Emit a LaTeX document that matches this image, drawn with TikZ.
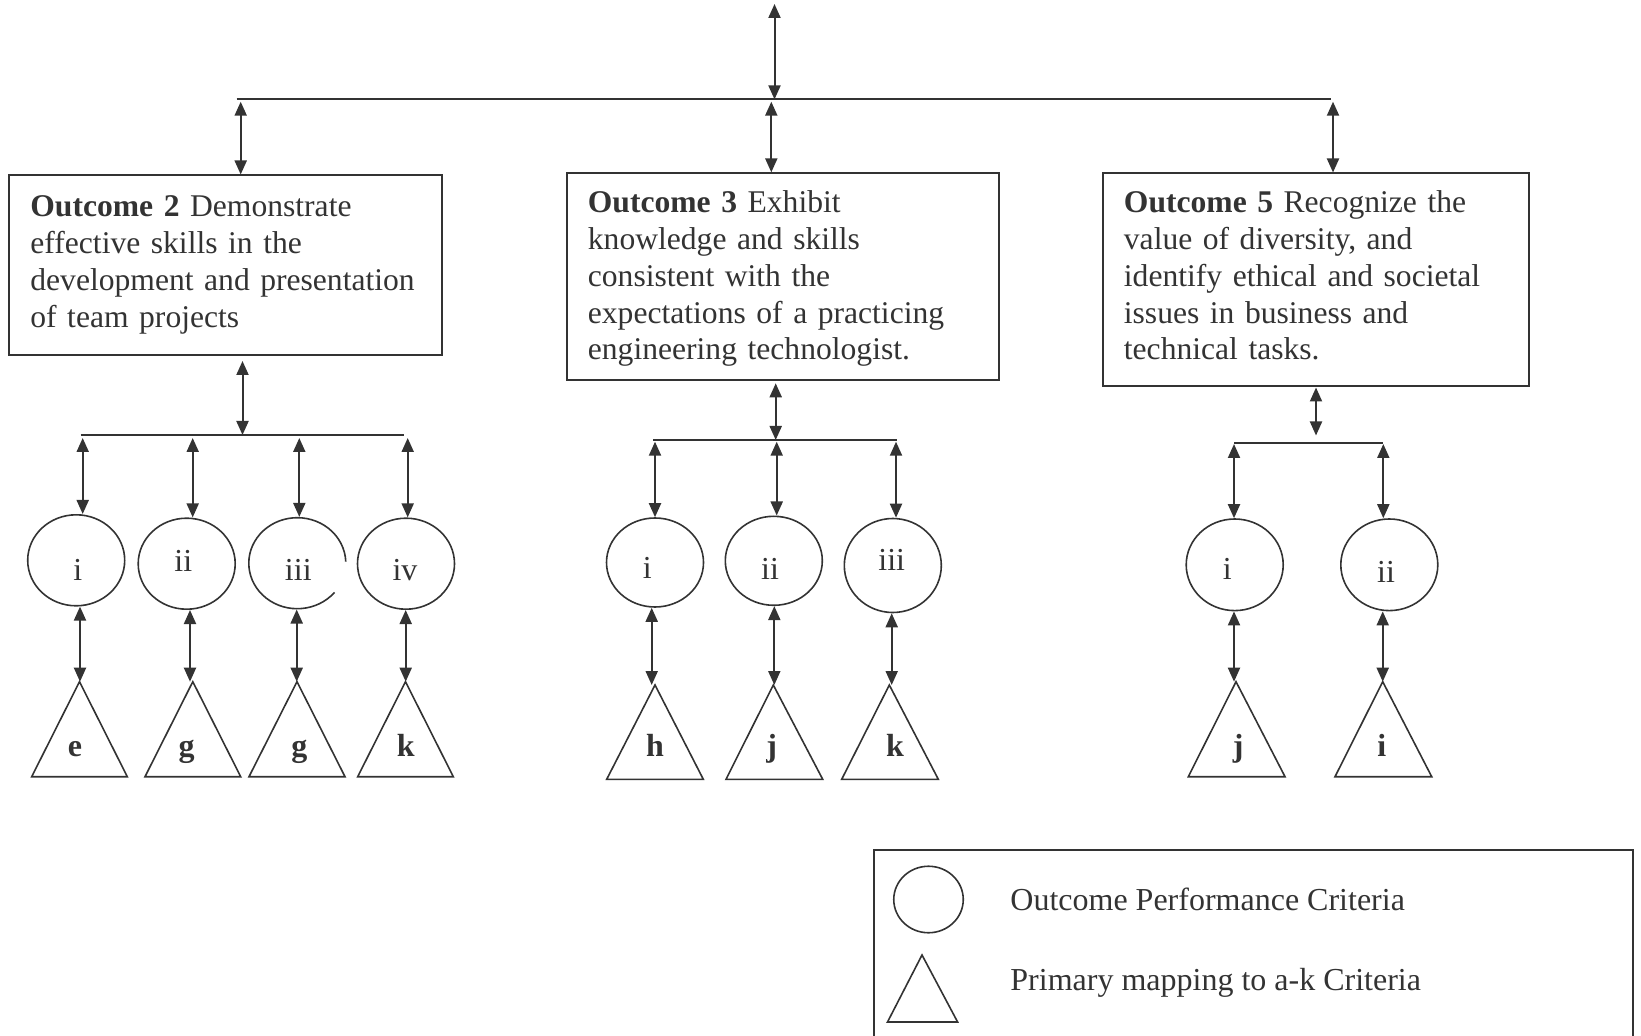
\documentclass[tikz,border=0pt]{standalone}
\usepackage{fontspec}
\setmainfont{Liberation Serif}
\usetikzlibrary{arrows.meta,shapes.geometric}
\definecolor{ink}{HTML}{333333}
\begin{document}
\begin{tikzpicture}[x=0.5pt,y=-0.5pt,
  tipA/.tip={Triangle[length=7pt,width=6pt]},
  dbl/.style={draw=ink, line width=1pt, tipA-tipA},
  busline/.style={draw=ink, line width=1pt},
  outbox/.style={draw=ink, line width=1pt, rectangle, inner sep=0pt},
  boxtext/.style={anchor=base west, inner sep=0pt, text width=215pt, align=left, font=\fontsize{15.8pt}{18.35pt}\selectfont, text=ink},
  crit/.style={draw=ink, line width=0.8pt, ellipse, inner sep=0pt, minimum width=48.5pt, minimum height=45.5pt},
  lbl/.style={anchor=base, inner sep=0pt, font=\fontsize{16pt}{18.35pt}\selectfont, text=ink},
  tri/.style={draw=ink, line width=0.8pt, line join=miter},
  trilbl/.style={anchor=base, inner sep=0pt, font=\fontsize{16pt}{18.35pt}\selectfont\bfseries, text=ink},
]
\useasboundingbox (0,0) rectangle (1641,1036);

% ---------- top level ----------
\coordinate (top) at (774.5,4);
\coordinate (topc) at (774.5,99.4);
\coordinate (busL) at (236.5,99.4);
\coordinate (busR) at (1331,99.4);
\draw[busline] (busL) -- (busR);
\draw[dbl] (top) -- (topc);

\node[outbox, minimum width=216.3pt, minimum height=90pt] (o2) at (225.7,265.5) {};
\node[outbox, minimum width=216.3pt, minimum height=103.35pt] (o3) at (783,276.7) {};
\node[outbox, minimum width=213.05pt, minimum height=106.1pt] (o5) at (1315.8,279.6) {};

\node[boxtext] (o2t) at (30,217) {\textbf{Outcome 2} Demonstrate\\effective skills in the\\development and presentation\\of team projects};
\node[boxtext] (o3t) at (587.5,213) {\textbf{Outcome 3} Exhibit\\knowledge and skills\\consistent with the\\expectations of a practicing\\engineering technologist.};
\node[boxtext] (o5t) at (1123.5,213) {\textbf{Outcome 5} Recognize the\\value of diversity, and\\identify ethical and societal\\issues in business and\\technical tasks.};

\coordinate (a2) at (240.7,101.7);
\coordinate (a3) at (771.3,101.7);
\coordinate (a5) at (1333,101.7);
\draw[dbl] (a2) -- (a2 |- o2.north);
\draw[dbl] (a3) -- (a3 |- o3.north);
\draw[dbl] (a5) -- (a5 |- o5.north);

% ---------- group 2 ----------
\coordinate (g2L) at (80.7,435);
\coordinate (g2R) at (404,435);
\draw[busline] (g2L) -- (g2R);
\coordinate (g2s) at (242.5,361);
\coordinate (g2e) at (242.5,435);
\draw[dbl] (g2s) -- (g2e);

\node[crit] (c21) at (76.2,560.3) {};
\node[crit] (c22) at (186.7,563.7) {};
\node[crit, draw=none] (c23) at (297.3,563.2) {};
\draw[draw=ink, line width=0.8pt] ([shift={(40:48.5 and 45.5)}]c23.center) arc[start angle=40, end angle=358, x radius=48.5, y radius=45.5];
\node[crit] (c24) at (406,563.7) {};

\node[lbl] (l21) at (77.7,580) {i};
\node[lbl] (l22) at (183.3,571.7) {ii};
\node[lbl] (l23) at (298.3,580.7) {iii};
\node[lbl] (l24) at (405,580) {iv};

\coordinate (u21) at (82.7,438);
\coordinate (u22) at (192.7,438);
\coordinate (u23) at (299.3,438);
\coordinate (u24) at (407.7,438);
\draw[dbl] (u21) -- (u21 |- c21.north);
\draw[dbl] (u22) -- (u22 |- c22.north);
\draw[dbl] (u23) -- (u23 |- c23.north);
\draw[dbl] (u24) -- (u24 |- c24.north);

\coordinate (t21) at (79.5,681.7);
\coordinate (t22) at (192.8,681.7);
\coordinate (t23) at (297,681.7);
\coordinate (t24) at (405.5,681.7);
\draw[tri] (t21) -- (31.7,776.7) -- (127.3,776.7) -- cycle;
\draw[tri] (t22) -- (145,776.7) -- (240.7,776.7) -- cycle;
\draw[tri] (t23) -- (249,776.7) -- (345,776.7) -- cycle;
\draw[tri] (t24) -- (357.7,776.7) -- (453.3,776.7) -- cycle;
\node[trilbl] (k21) at (75,756.5) {e};
\node[trilbl] (k22) at (186.7,756.5) {g};
\node[trilbl] (k23) at (299.3,756.5) {g};
\node[trilbl] (k24) at (405.7,756.5) {k};

\coordinate (d21) at (80,0);
\coordinate (d22) at (190,0);
\coordinate (d23) at (296.7,0);
\coordinate (d24) at (405.7,0);
\draw[dbl] (d21 |- c21.south) -- (d21 |- t21);
\draw[dbl] (d22 |- c22.south) -- (d22 |- t22);
\draw[dbl] (d23 |- c23.south) -- (d23 |- t23);
\draw[dbl] (d24 |- c24.south) -- (d24 |- t24);

% ---------- group 3 ----------
\coordinate (g3L) at (653.3,440);
\coordinate (g3R) at (896.7,440);
\draw[busline] (g3L) -- (g3R);
\coordinate (g3s) at (775.7,383.3);
\coordinate (g3e) at (775.7,440);
\draw[dbl] (g3s) -- (g3e);

\node[crit, minimum height=44.5pt] (c31) at (655,562.5) {};
\node[crit, minimum height=44.5pt] (c32) at (773.8,560.8) {};
\node[crit, minimum height=47pt] (c33) at (892.8,565.5) {};
\node[lbl] (l31) at (647.3,578.3) {i};
\node[lbl] (l32) at (770,579.3) {ii};
\node[lbl] (l33) at (891.7,570) {iii};

\coordinate (u31) at (655,441.7);
\coordinate (u32) at (776.7,441.7);
\coordinate (u33) at (896,441.7);
\draw[dbl] (u31) -- (u31 |- c31.north);
\draw[dbl] (u32) -- (u32 |- c32.north);
\draw[dbl] (u33) -- (u33 |- c33.north);

\coordinate (t31) at (655,685);
\coordinate (t32) at (773.3,685);
\coordinate (t33) at (889.3,685);
\draw[tri] (t31) -- (606.7,779.3) -- (703.3,779.3) -- cycle;
\draw[tri] (t32) -- (726,779.3) -- (822.7,779.3) -- cycle;
\draw[tri] (t33) -- (841.7,779.3) -- (938.3,779.3) -- cycle;
\node[trilbl] (k31) at (655,756.5) {h};
\node[trilbl] (k32) at (771.7,756.5) {j};
\node[trilbl] (k33) at (895,756.5) {k};

\coordinate (d31) at (651.7,0);
\coordinate (d32) at (774.3,0);
\coordinate (d33) at (891.7,0);
\draw[dbl] (d31 |- c31.south) -- (d31 |- t31);
\draw[dbl] (d32 |- c32.south) -- (d32 |- t32);
\draw[dbl] (d33 |- c33.south) -- (d33 |- t33);

% ---------- group 5 ----------
\coordinate (g5L) at (1234,442.7);
\coordinate (g5R) at (1383.3,442.7);
\draw[busline] (g5L) -- (g5R);
\coordinate (g5s) at (1316,387.5);
\coordinate (g5e) at (1316,435.5);
\draw[dbl] (g5s) -- (g5e);

\node[crit, minimum height=45.8pt] (c51) at (1234.7,564.8) {};
\node[crit, minimum height=45.8pt] (c52) at (1389.3,564.8) {};
\node[lbl] (l51) at (1227.3,579.3) {i};
\node[lbl] (l52) at (1386,582.7) {ii};

\coordinate (u51) at (1234,444);
\coordinate (u52) at (1383.3,444);
\draw[dbl] (u51) -- (u51 |- c51.north);
\draw[dbl] (u52) -- (u52 |- c52.north);

\coordinate (t51) at (1236,681.7);
\coordinate (t52) at (1382.7,681.7);
\draw[tri] (t51) -- (1188.3,776.7) -- (1285,776.7) -- cycle;
\draw[tri] (t52) -- (1335,776.7) -- (1431.7,776.7) -- cycle;
\node[trilbl] (k51) at (1238.3,756.5) {j};
\node[trilbl] (k52) at (1381.7,756.5) {i};

\coordinate (d51) at (1234,0);
\coordinate (d52) at (1382.7,0);
\draw[dbl] (d51 |- c51.south) -- (d51 |- t51);
\draw[dbl] (d52 |- c52.south) -- (d52 |- t52);

% ---------- legend ----------
\draw[draw=ink, line width=1pt] (874,1038) -- (874,850) -- (1632.5,850) -- (1632.5,1038);
\node[crit, minimum width=34.75pt, minimum height=33.25pt] (legc) at (928.5,899.5) {};
\coordinate (legt) at (922,955);
\draw[tri] (legt) -- (887.5,1022) -- (957.6,1022) -- cycle;
\node[lbl, anchor=base west] (legct) at (1010,910.5) {Outcome Performance Criteria};
\node[lbl, anchor=base west] (legtt) at (1010,990) {Primary mapping to a-k Criteria};
\end{tikzpicture}
\end{document}
